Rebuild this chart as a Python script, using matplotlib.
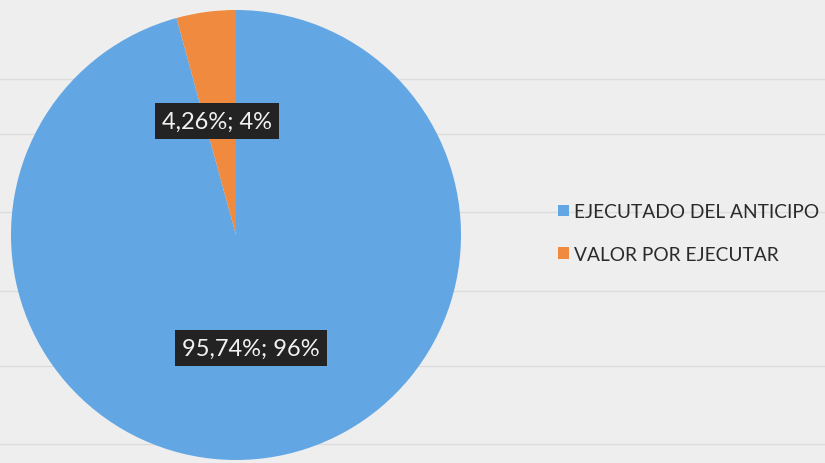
import numpy as np
import matplotlib
matplotlib.use("Agg")
import matplotlib.pyplot as plt

categories = ["EJECUTADO DEL ANTICIPO", "VALOR POR EJECUTAR"]
values = [95.74, 4.26]
rounded = [96, 4]
colors = ["#62a6e4", "#ef8a3e"]

W, H = 825, 464
bg = "#eeeeee"
fig = plt.figure(figsize=(W / 100, H / 100), dpi=100)
fig.patch.set_facecolor(bg)
ax = fig.add_axes([0, 0, 1, 1])
ax.set_facecolor(bg)

# faint table rules from the scanned page
for yy in [80, 135, 213, 292, 367, 445]:
    ax.axhline(H - yy, color="#dcdcdc", lw=1, zorder=0)

wedges, _ = ax.pie(values, colors=colors, startangle=90, counterclock=False,
                   center=(236, H - 236), radius=225, frame=True,
                   wedgeprops=dict(linewidth=0))
ax.set_xlim(0, W)
ax.set_ylim(0, H)
ax.set_aspect("equal")
ax.axis("off")

# data labels
label_pos = [(251, H - 349), (217, H - 122)]
for (x, y), v, r in zip(label_pos, values, rounded):
    txt = f"{v:.2f}%; {r}%".replace(".", ",")
    ax.text(x, y, txt, ha="center", va="center", color="#f2f2f2",
            fontsize=17, family="Lato",
            bbox=dict(boxstyle="square,pad=0.3", fc="#232323", ec="none"))

fig.legend(wedges, categories, loc="center left",
           bbox_to_anchor=(541 / W, 1 - 234 / H), frameon=False,
           handlelength=0.55, handleheight=0.55, handletextpad=0.25,
           labelspacing=1.35, prop=dict(family="Lato", size=13.8),
           labelcolor="#2a2a2a")

fig.savefig("out.png", dpi=100, facecolor=fig.get_facecolor())
